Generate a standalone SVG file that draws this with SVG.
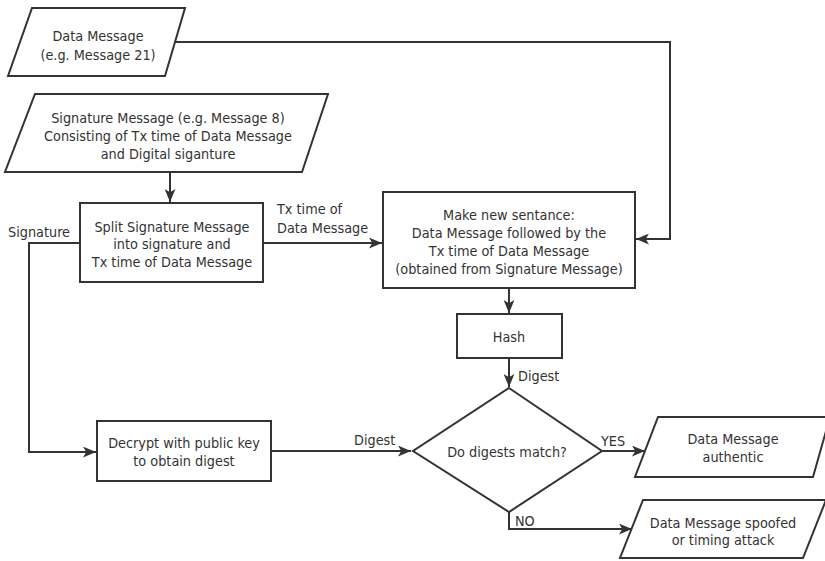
<svg xmlns="http://www.w3.org/2000/svg" width="825" height="561" viewBox="0 0 825 561">
<style>
.s{fill:#fff;stroke:#333;stroke-width:2}
.c{fill:none;stroke:#333;stroke-width:2}
text{font-family:"DejaVu Sans Condensed","DejaVu Sans","Liberation Sans",sans-serif;font-stretch:condensed;font-size:14.3px;fill:#333}
.m{text-anchor:middle}
</style>
<defs>
<marker id="a" viewBox="0 0 12 10" refX="12" refY="5" markerWidth="13" markerHeight="11" markerUnits="userSpaceOnUse" orient="auto">
<path d="M0,0 L12,5 L0,10 L3,5 Z" fill="#333"/>
</marker>
</defs>
<g id="connectors">
<path class="c" d="M175,42 H670 V239 H636" marker-end="url(#a)"/>
<path class="c" d="M170,172 V202" marker-end="url(#a)"/>
<path class="c" d="M263,243 H382" marker-end="url(#a)"/>
<path class="c" d="M80,243 H29 V452 H96" marker-end="url(#a)"/>
<path class="c" d="M509,288 V313" marker-end="url(#a)"/>
<path class="c" d="M509,358 V387" marker-end="url(#a)"/>
<path class="c" d="M271,451 H411" marker-end="url(#a)"/>
<path class="c" d="M602,451 H645" marker-end="url(#a)"/>
<path class="c" d="M509,512 V529 H632" marker-end="url(#a)"/>
<text x="8" y="237">Signature</text>
<text x="277" y="214">Tx time of</text>
<text x="277" y="233">Data Message</text>
<text x="518" y="381">Digest</text>
<text x="354" y="445">Digest</text>
<text x="601" y="446">YES</text>
<text x="515" y="526">NO</text>
</g>
<g id="data-message">
<polygon class="s" points="32,8 185,8 165,76 8,76"/>
<text class="m" x="98" y="41">Data Message</text>
<text class="m" x="98" y="60">(e.g. Message 21)</text>
</g>
<g id="signature-message">
<polygon class="s" points="35,94 328,94 302,172 5,172"/>
<text class="m" x="168" y="123">Signature Message (e.g. Message 8)</text>
<text class="m" x="168" y="141">Consisting of Tx time of Data Message</text>
<text class="m" x="168" y="159">and Digital siganture</text>
</g>
<g id="split">
<rect class="s" x="80" y="203" width="183" height="79"/>
<text class="m" x="172" y="232">Split Signature Message</text>
<text class="m" x="172" y="249">into signature and</text>
<text class="m" x="172" y="267">Tx time of Data Message</text>
</g>
<g id="make-sentence">
<rect class="s" x="383" y="192" width="252" height="96"/>
<text class="m" x="509" y="220">Make new sentance:</text>
<text class="m" x="509" y="238">Data Message followed by the</text>
<text class="m" x="509" y="256">Tx time of Data Message</text>
<text class="m" x="509" y="274">(obtained from Signature Message)</text>
</g>
<g id="hash">
<rect class="s" x="457" y="314" width="105" height="44"/>
<text class="m" x="509" y="342">Hash</text>
</g>
<g id="decrypt">
<rect class="s" x="97" y="421" width="174" height="60"/>
<text class="m" x="184" y="448">Decrypt with public key</text>
<text class="m" x="184" y="466">to obtain digest</text>
</g>
<g id="decision">
<polygon class="s" points="509,388 602,451 509,512 413,451"/>
<text class="m" x="507" y="457">Do digests match?</text>
</g>
<g id="authentic">
<polygon class="s" points="658,417 830,417 813,477 635,477"/>
<text class="m" x="733" y="444">Data Message</text>
<text class="m" x="733" y="462">authentic</text>
</g>
<g id="spoofed">
<polygon class="s" points="643,500 826,500 803,558 620,558"/>
<text class="m" x="723" y="528">Data Message spoofed</text>
<text class="m" x="723" y="545">or timing attack</text>
</g>
</svg>
